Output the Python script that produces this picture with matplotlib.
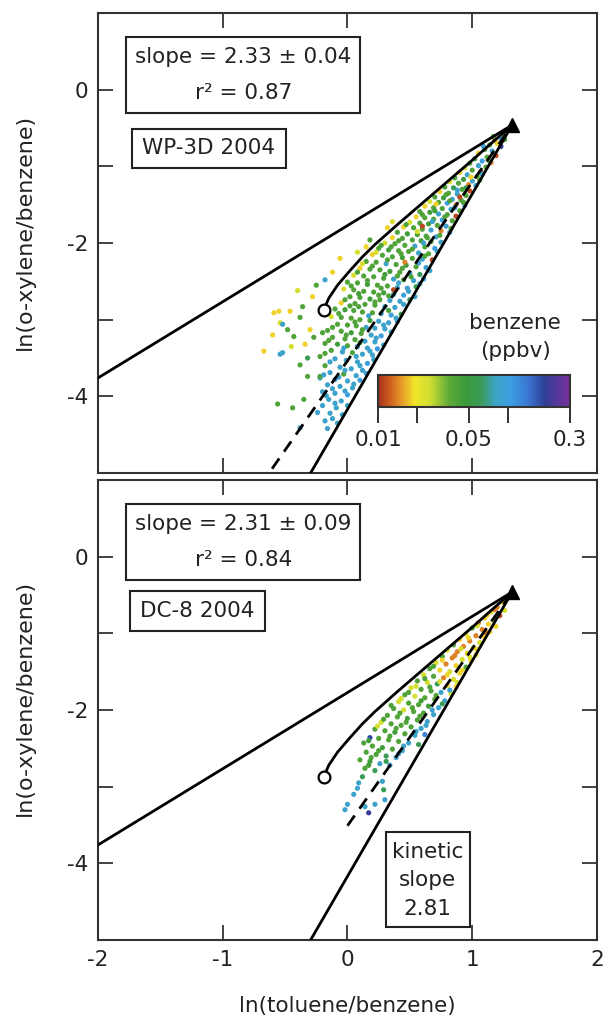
import matplotlib
matplotlib.use("Agg")
import matplotlib.pyplot as plt
from matplotlib.colors import LinearSegmentedColormap, LogNorm
from matplotlib.patches import Rectangle
from matplotlib.cm import ScalarMappable
from matplotlib.ticker import NullLocator

plt.rcParams["font.family"] = ["DejaVu Sans"]
plt.rcParams["axes.unicode_minus"] = False

# model lines (shared by both panels)
source = (1.32, -0.46)
background_end = (-2.0, -3.76)
kinetic_slope = 2.81
kinetic_xmin = -0.35
mix_x = [-0.19, -0.15, -0.08, 0.02, 0.12, 0.22, 0.40, 0.60, 0.80, 1.00, 1.18, 1.32]
mix_y = [-2.87, -2.72, -2.55, -2.36, -2.18, -2.02, -1.76, -1.48, -1.20, -0.92, -0.66, -0.46]
mix_end = (-0.19, -2.87)

# fits
fit_slope = {"WP-3D 2004": 2.33, "DC-8 2004": 2.31}
fit_xmin = {"WP-3D 2004": -0.70, "DC-8 2004": 0.0}
fit_text = {"WP-3D 2004": ("slope = 2.33 ± 0.04", "r² = 0.87"),
            "DC-8 2004": ("slope = 2.31 ± 0.09", "r² = 0.84")}

# (ln(toluene/benzene), ln(o-xylene/benzene), benzene ppbv)
wp3d_pts = [
    (1.25, -0.58, 0.04), (1.22, -0.62, 0.085), (1.18, -0.66, 0.011), (1.26, -0.65, 0.045),
    (1.20, -0.70, 0.018), (1.14, -0.72, 0.04), (1.23, -0.74, 0.2),
    (1.10, -0.78, 0.04), (1.16, -0.80, 0.085), (1.05, -0.83, 0.018), (1.19, -0.86, 0.011),
    (1.12, -0.88, 0.04), (1.02, -0.90, 0.045), (1.08, -0.93, 0.1), (1.15, -0.95, 0.014),
    (0.98, -0.96, 0.04), (1.05, -0.99, 0.085), (1.11, -1.01, 0.04), (0.94, -1.02, 0.024),
    (1.00, -1.05, 0.04), (1.07, -1.07, 0.011), (0.90, -1.08, 0.018), (0.96, -1.11, 0.085),
    (1.04, -1.13, 0.04), (0.86, -1.15, 0.04), (0.93, -1.17, 0.045), (1.00, -1.19, 0.085),
    (0.82, -1.20, 0.024), (0.89, -1.22, 0.04), (0.97, -1.24, 0.014), (1.03, -1.25, 0.085),
    (0.78, -1.27, 0.04), (0.85, -1.28, 0.06), (0.92, -1.30, 0.04),
    (0.98, -1.32, 0.011), (0.74, -1.33, 0.018), (0.81, -1.35, 0.04), (0.88, -1.36, 0.085),
    (0.95, -1.38, 0.04), (0.70, -1.40, 0.04), (0.77, -1.41, 0.045), (0.84, -1.43, 0.085),
    (0.91, -1.44, 0.04), (0.66, -1.46, 0.024), (0.73, -1.47, 0.04), (0.80, -1.48, 0.1),
    (0.87, -1.50, 0.014), (0.94, -1.51, 0.085), (0.62, -1.52, 0.018), (0.69, -1.54, 0.04),
    (0.76, -1.55, 0.04), (0.83, -1.56, 0.085), (0.90, -1.58, 0.04), (0.58, -1.59, 0.04),
    (0.66, -1.60, 0.045),
    (0.73, -1.62, 0.085), (0.80, -1.63, 0.04), (0.87, -1.65, 0.011), (0.55, -1.66, 0.018),
    (0.62, -1.67, 0.04), (0.69, -1.69, 0.04), (0.76, -1.70, 0.1), (0.84, -1.71, 0.04),
    (0.50, -1.73, 0.024), (0.58, -1.74, 0.04), (0.65, -1.75, 0.045), (0.72, -1.77, 0.04),
    (0.79, -1.78, 0.085), (0.45, -1.79, 0.018), (0.53, -1.80, 0.04), (0.60, -1.82, 0.04),
    (0.67, -1.83, 0.085), (0.75, -1.84, 0.014), (0.82, -1.86, 0.085), (0.40, -1.86, 0.04),
    (0.48, -1.88, 0.045), (0.56, -1.89, 0.04), (0.32, -1.80, 0.018), (0.36, -1.72, 0.024),
    (0.63, -1.91, 0.04), (0.71, -1.92, 0.085), (0.36, -1.93, 0.018), (0.44, -1.94, 0.04),
    (0.52, -1.96, 0.04), (0.59, -1.97, 0.045), (0.67, -1.98, 0.04), (0.75, -1.99, 0.085),
    (0.30, -2.00, 0.024), (0.38, -2.01, 0.04), (0.46, -2.03, 0.04), (0.54, -2.04, 0.085),
    (0.62, -2.05, 0.04), (0.70, -2.07, 0.1), (0.25, -2.07, 0.04), (0.33, -2.09, 0.045),
    (0.41, -2.10, 0.04), (0.49, -2.11, 0.04), (0.57, -2.13, 0.085), (0.65, -2.14, 0.04),
    (0.20, -2.15, 0.018), (0.28, -2.16, 0.04), (0.36, -2.18, 0.04), (0.44, -2.19, 0.045),
    (0.52, -2.20, 0.04), (0.60, -2.21, 0.085), (0.68, -2.22, 0.011),
    (0.15, -2.05, 0.018), (0.08, -2.12, 0.024), (0.18, -1.96, 0.04), (-0.06, -2.20, 0.018),
    (-0.12, -2.38, 0.018), (-0.18, -2.48, 0.085),
    (0.15, -2.24, 0.04), (0.23, -2.25, 0.04), (0.31, -2.27, 0.085), (0.39, -2.28, 0.04),
    (0.47, -2.29, 0.045), (0.55, -2.31, 0.04), (0.63, -2.32, 0.085), (0.10, -2.33, 0.018),
    (0.18, -2.34, 0.04), (0.26, -2.35, 0.04), (0.34, -2.37, 0.045), (0.42, -2.38, 0.04),
    (0.50, -2.39, 0.085), (0.58, -2.41, 0.06), (0.05, -2.42, 0.024), (0.13, -2.43, 0.04),
    (0.21, -2.44, 0.04), (0.29, -2.46, 0.04), (0.37, -2.47, 0.085), (0.45, -2.48, 0.04),
    (0.53, -2.49, 0.085), (0.61, -2.47, 0.1),
    (0.00, -2.51, 0.04), (0.08, -2.52, 0.04), (0.16, -2.54, 0.045), (0.24, -2.55, 0.04),
    (0.32, -2.56, 0.04), (0.40, -2.58, 0.085), (0.48, -2.59, 0.085), (0.55, -2.57, 0.06),
    (-0.03, -2.60, 0.024), (0.05, -2.61, 0.04), (0.13, -2.63, 0.04), (0.21, -2.64, 0.04),
    (0.29, -2.65, 0.045), (0.37, -2.67, 0.085), (0.45, -2.68, 0.1), (0.02, -2.70, 0.04),
    (0.10, -2.71, 0.04), (0.18, -2.73, 0.045), (0.26, -2.74, 0.04), (0.34, -2.75, 0.085),
    (0.42, -2.76, 0.085), (0.50, -2.74, 0.06), (-0.05, -2.78, 0.018), (0.06, -2.79, 0.04),
    (0.14, -2.80, 0.04), (0.22, -2.81, 0.04), (0.30, -2.83, 0.085), (0.38, -2.84, 0.085),
    (-0.10, -2.86, 0.04), (-0.02, -2.87, 0.045), (0.05, -2.88, 0.04), (0.12, -2.90, 0.04),
    (0.20, -2.91, 0.04), (0.27, -2.92, 0.085), (0.35, -2.94, 0.1), (0.43, -2.93, 0.06),
    (-0.13, -2.96, 0.024), (-0.05, -2.97, 0.04), (0.03, -2.98, 0.04), (0.10, -3.00, 0.04),
    (0.18, -3.01, 0.045), (0.25, -3.02, 0.085), (0.33, -3.04, 0.085), (0.40, -3.02, 0.11),
    (-0.08, -3.06, 0.04), (0.00, -3.07, 0.04), (0.07, -3.08, 0.04), (0.15, -3.10, 0.085),
    (0.22, -3.11, 0.085), (0.30, -3.12, 0.085), (-0.16, -3.14, 0.04), (-0.05, -3.15, 0.04),
    (0.03, -3.17, 0.045), (0.11, -3.18, 0.04), (0.19, -3.20, 0.085), (0.27, -3.21, 0.1),
    (-0.12, -3.23, 0.04), (-0.02, -3.25, 0.04), (0.06, -3.26, 0.04), (0.14, -3.28, 0.085),
    (0.22, -3.29, 0.085), (-0.18, -3.31, 0.04), (-0.08, -3.32, 0.045), (0.00, -3.34, 0.04),
    (0.08, -3.35, 0.085), (0.16, -3.37, 0.085), (0.24, -3.38, 0.11), (-0.13, -3.40, 0.04),
    (-0.04, -3.42, 0.085), (0.04, -3.43, 0.04), (0.12, -3.45, 0.085), (0.20, -3.46, 0.085),
    (-0.22, -3.48, 0.04),
    (-0.10, -3.51, 0.085), (-0.01, -3.53, 0.085), (0.08, -3.55, 0.085), (0.16, -3.57, 0.1),
    (-0.18, -3.60, 0.04), (-0.06, -3.62, 0.085), (0.03, -3.64, 0.085), (0.12, -3.66, 0.085),
    (-0.14, -3.69, 0.085), (-0.03, -3.71, 0.04), (0.07, -3.73, 0.085), (-0.22, -3.76, 0.085),
    (-0.10, -3.78, 0.085), (0.00, -3.80, 0.085), (0.10, -3.79, 0.1), (-0.16, -3.85, 0.085),
    (-0.06, -3.87, 0.085), (0.04, -3.89, 0.085), (-0.20, -3.94, 0.085), (-0.10, -3.96, 0.085),
    (0.00, -3.98, 0.1), (-0.15, -4.04, 0.085), (-0.05, -4.06, 0.085), (-0.20, -4.12, 0.085),
    (-0.09, -4.15, 0.085), (-0.14, -4.22, 0.085), (-0.04, -4.24, 0.085), (-0.18, -4.32, 0.085),
    (-0.08, -4.35, 0.085), (-0.16, -4.42, 0.085),
    (-0.59, -2.91, 0.018), (-0.54, -3.04, 0.024), (-0.67, -3.41, 0.018), (-0.52, -3.43, 0.085),
    (-0.43, -3.22, 0.04), (-0.55, -2.89, 0.018), (-0.46, -2.89, 0.018), (-0.36, -2.83, 0.04),
    (-0.52, -3.06, 0.085), (-0.48, -3.13, 0.04), (-0.38, -2.97, 0.04), (-0.30, -3.13, 0.018),
    (-0.27, -3.23, 0.04), (-0.20, -3.17, 0.04), (-0.54, -3.45, 0.085), (-0.34, -3.32, 0.018),
    (-0.38, -3.59, 0.04), (-0.56, -4.10, 0.04), (-0.44, -4.15, 0.04), (-0.38, -4.41, 0.085),
    (-0.24, -4.21, 0.085), (-0.32, -3.74, 0.04), (-0.22, -3.74, 0.04), (-0.35, -4.04, 0.04),
    (-0.28, -2.70, 0.018), (-0.40, -2.62, 0.024), (-0.25, -2.55, 0.04), (-0.32, -3.50, 0.06),
    (-0.45, -3.35, 0.024), (-0.60, -3.20, 0.018),
    (1.17, -0.61, 0.04), (1.09, -0.74, 0.085), (1.13, -0.92, 0.04), (0.99, -1.14, 0.018),
    (1.06, -1.18, 0.04), (0.88, -1.31, 0.085), (0.79, -1.37, 0.04), (0.93, -1.47, 0.04),
    (0.71, -1.49, 0.018), (0.86, -1.54, 0.085), (0.60, -1.63, 0.04), (0.78, -1.66, 0.04),
    (0.68, -1.72, 0.085), (0.47, -1.76, 0.04), (0.83, -1.81, 0.04), (0.56, -1.85, 0.024),
    (0.74, -1.90, 0.04), (0.41, -1.97, 0.04), (0.61, -2.00, 0.085), (0.35, -2.05, 0.04),
    (0.52, -2.08, 0.04), (0.72, -2.11, 0.085), (0.23, -2.12, 0.024), (0.43, -2.14, 0.04),
    (0.62, -2.17, 0.04), (0.32, -2.22, 0.04), (0.57, -2.26, 0.085), (0.20, -2.30, 0.04),
    (0.44, -2.33, 0.04), (0.66, -2.36, 0.085), (0.08, -2.38, 0.04), (0.30, -2.41, 0.045),
    (0.51, -2.44, 0.04), (0.16, -2.49, 0.04), (0.41, -2.52, 0.085), (0.58, -2.53, 0.085),
    (0.03, -2.56, 0.04), (0.27, -2.59, 0.04), (0.49, -2.63, 0.085), (0.09, -2.66, 0.045),
    (0.33, -2.69, 0.04), (0.54, -2.70, 0.085), (-0.02, -2.74, 0.04), (0.22, -2.77, 0.04),
    (0.45, -2.80, 0.085), (0.09, -2.83, 0.04), (0.33, -2.88, 0.04), (-0.07, -2.92, 0.04),
    (0.17, -2.95, 0.085), (0.39, -2.98, 0.085), (0.06, -3.03, 0.04), (0.29, -3.07, 0.085),
    (-0.12, -3.10, 0.04), (0.12, -3.13, 0.04), (0.35, -3.16, 0.085), (-0.01, -3.20, 0.04),
    (0.23, -3.24, 0.085), (-0.15, -3.27, 0.04), (0.10, -3.30, 0.04), (0.29, -3.33, 0.085),
    (-0.03, -3.37, 0.085), (0.18, -3.41, 0.085), (-0.18, -3.44, 0.04), (0.07, -3.48, 0.085),
    (0.21, -3.52, 0.085), (-0.14, -3.55, 0.085), (0.10, -3.60, 0.085), (-0.02, -3.66, 0.085),
    (0.15, -3.70, 0.085), (-0.19, -3.72, 0.085), (-0.07, -3.75, 0.085), (0.05, -3.84, 0.085),
    (-0.12, -3.90, 0.085), (-0.02, -3.93, 0.085), (-0.17, -3.99, 0.085), (-0.10, -4.09, 0.085),
    (0.00, -4.12, 0.085), (-0.12, -4.29, 0.085), (0.60, -1.78, 0.011), (0.90, -1.40, 0.011),
    (0.46, -2.25, 0.014), (0.37, -2.61, 0.011), (1.08, -1.10, 0.085), (0.95, -1.28, 0.06),
    (0.82, -1.45, 0.04), (0.70, -1.58, 0.045), (0.64, -1.93, 0.04), (0.27, -2.03, 0.04),
    (0.12, -2.27, 0.024), (0.40, -2.43, 0.04), (0.25, -2.68, 0.04), (0.02, -2.82, 0.04),
]

dc8_pts = [
    (1.25, -0.60, 0.018), (1.20, -0.66, 0.014), (1.26, -0.70, 0.024), (1.15, -0.72, 0.018),
    (1.22, -0.77, 0.011), (1.10, -0.80, 0.018), (1.17, -0.83, 0.024), (1.05, -0.86, 0.014),
    (1.13, -0.88, 0.018), (1.19, -0.91, 0.018), (1.00, -0.93, 0.04), (1.08, -0.95, 0.014),
    (1.14, -0.98, 0.018),
    (0.95, -1.01, 0.024), (1.03, -1.03, 0.014), (1.10, -1.05, 0.018), (0.90, -1.08, 0.018),
    (0.98, -1.10, 0.014), (1.06, -1.12, 0.024), (0.85, -1.15, 0.04), (0.93, -1.17, 0.014),
    (1.01, -1.19, 0.018), (0.80, -1.22, 0.024), (0.88, -1.24, 0.014), (0.96, -1.26, 0.018),
    (1.03, -1.28, 0.018), (0.76, -1.30, 0.04), (0.84, -1.32, 0.014), (0.92, -1.34, 0.024),
    (0.99, -1.36, 0.018), (0.71, -1.38, 0.024), (0.79, -1.40, 0.014), (0.87, -1.42, 0.018),
    (0.95, -1.44, 0.04), (0.66, -1.46, 0.04), (0.74, -1.48, 0.018), (0.82, -1.50, 0.024),
    (0.90, -1.52, 0.018), (0.61, -1.54, 0.024), (0.69, -1.56, 0.04), (0.77, -1.58, 0.014),
    (0.85, -1.60, 0.024), (0.56, -1.62, 0.04), (0.64, -1.64, 0.024), (0.72, -1.66, 0.06),
    (0.80, -1.68, 0.018), (0.87, -1.70, 0.018), (0.51, -1.71, 0.024), (0.59, -1.73, 0.04),
    (0.67, -1.75, 0.04), (0.75, -1.77, 0.085), (0.83, -1.79, 0.024), (0.46, -1.80, 0.04),
    (0.54, -1.82, 0.024), (0.62, -1.84, 0.04), (0.70, -1.86, 0.04), (0.78, -1.88, 0.085),
    (0.41, -1.89, 0.024), (0.49, -1.91, 0.04), (0.57, -1.93, 0.04), (0.65, -1.95, 0.045),
    (0.73, -1.97, 0.085), (0.37, -1.98, 0.04), (0.45, -2.00, 0.024),
    (0.53, -2.02, 0.04), (0.61, -2.04, 0.04), (0.69, -2.06, 0.085), (0.32, -2.07, 0.04),
    (0.40, -2.09, 0.04), (0.48, -2.11, 0.045), (0.56, -2.13, 0.04), (0.64, -2.15, 0.085),
    (0.27, -2.16, 0.024), (0.35, -2.18, 0.04), (0.43, -2.20, 0.04), (0.51, -2.22, 0.04),
    (0.59, -2.24, 0.085), (0.22, -2.25, 0.04), (0.30, -2.27, 0.04), (0.38, -2.29, 0.045),
    (0.46, -2.31, 0.04), (0.54, -2.33, 0.085), (0.62, -2.32, 0.13), (0.18, -2.36, 0.18),
    (0.25, -2.37, 0.04), (0.33, -2.39, 0.04), (0.41, -2.41, 0.04), (0.49, -2.43, 0.085),
    (0.13, -2.43, 0.04), (0.57, -2.45, 0.06), (0.20, -2.47, 0.04), (0.28, -2.49, 0.045),
    (0.36, -2.51, 0.04), (0.44, -2.53, 0.085), (0.15, -2.55, 0.04), (0.23, -2.58, 0.04),
    (0.31, -2.60, 0.06), (0.39, -2.62, 0.085), (0.10, -2.65, 0.04), (0.18, -2.67, 0.045),
    (0.26, -2.70, 0.085), (0.34, -2.72, 0.085), (0.14, -2.76, 0.04), (0.22, -2.79, 0.06),
    (0.12, -2.87, 0.06), (0.09, -2.95, 0.085), (0.28, -2.93, 0.085), (0.29, -3.04, 0.06),
    (0.00, -3.23, 0.085), (0.14, -3.26, 0.085), (0.22, -3.23, 0.085), (0.17, -3.34, 0.2),
    (0.30, -3.17, 0.085), (0.05, -3.10, 0.085), (-0.02, -3.30, 0.085),
    (1.18, -0.69, 0.014), (1.12, -0.76, 0.018), (1.04, -0.90, 0.024), (1.11, -0.99, 0.014),
    (0.97, -1.06, 0.018), (1.04, -1.21, 0.018), (0.91, -1.20, 0.024), (0.86, -1.29, 0.014),
    (0.98, -1.31, 0.024), (0.76, -1.35, 0.018), (0.92, -1.48, 0.018), (0.69, -1.43, 0.04),
    (0.80, -1.54, 0.018), (0.62, -1.59, 0.04), (0.74, -1.63, 0.024), (0.88, -1.64, 0.024),
    (0.55, -1.69, 0.024), (0.66, -1.70, 0.04), (0.82, -1.74, 0.085), (0.49, -1.77, 0.04),
    (0.71, -1.81, 0.04), (0.43, -1.85, 0.024), (0.59, -1.88, 0.045), (0.76, -1.92, 0.06),
    (0.35, -1.94, 0.04), (0.52, -1.97, 0.04), (0.68, -2.00, 0.085), (0.42, -2.04, 0.04),
    (0.58, -2.08, 0.04), (0.29, -2.12, 0.04), (0.47, -2.16, 0.04), (0.63, -2.20, 0.085),
    (0.24, -2.21, 0.024), (0.39, -2.24, 0.04), (0.55, -2.28, 0.085), (0.34, -2.34, 0.04),
    (0.17, -2.40, 0.045), (0.45, -2.47, 0.085), (0.25, -2.53, 0.04), (0.41, -2.57, 0.085),
    (0.19, -2.62, 0.04), (0.31, -2.67, 0.06), (0.17, -2.72, 0.045), (0.08, -3.02, 0.085),
]

cbar_ticks = [0.01, 0.02, 0.05, 0.1, 0.3]
cbar_labels = ["0.01", "", "0.05", "", "0.3"]

cmap = LinearSegmentedColormap.from_list("benz", [
    (0.00, "#a8321e"), (0.07, "#d2661f"), (0.12, "#e69a2a"), (0.19, "#f2e52a"),
    (0.27, "#cfdd32"), (0.37, "#5eaa38"), (0.46, "#3a9a3a"), (0.54, "#3a9c5a"),
    (0.61, "#3ca4c4"), (0.69, "#3c9ee2"), (0.78, "#3a78d4"), (0.87, "#2e3f98"),
    (1.00, "#7a2f9a")])
norm = LogNorm(vmin=0.01, vmax=0.3)

FS = 15.5
LW = 2.0
fig = plt.figure(figsize=(6.03, 10.19), dpi=100)
ax_top = fig.add_axes([0.1625, 0.5358, 0.8275, 0.4514])
ax_bot = fig.add_axes([0.1625, 0.0775, 0.8275, 0.4514])


def draw_panel(ax, pts, name):
    xs, ys, bs = zip(*pts)
    ax.scatter(xs, ys, c=bs, cmap=cmap, norm=norm, s=14, linewidths=0, zorder=1)

    # background mixing line
    ax.plot([background_end[0], source[0]], [background_end[1], source[1]],
            color="k", lw=LW, zorder=3)
    # kinetic line
    ax.plot([kinetic_xmin, source[0]],
            [source[1] + kinetic_slope * (kinetic_xmin - source[0]), source[1]],
            color="k", lw=LW, zorder=3)
    # mixing curve
    ax.plot(mix_x, mix_y, color="k", lw=LW, zorder=3)
    # fit line
    s = fit_slope[name]
    x0 = fit_xmin[name]
    ax.plot([x0, source[0]], [source[1] + s * (x0 - source[0]), source[1]],
            color="k", lw=LW, dashes=(4.5, 3), zorder=3)

    ax.plot(*source, marker="^", ms=9.5, color="k", zorder=5, clip_on=False)
    ax.plot(*mix_end, marker="o", ms=8.5, mfc="white", mec="k", mew=1.6, zorder=5)

    ax.set_xlim(-2, 2)
    ax.set_ylim(-5, 1)
    ax.set_xticks([-2, -1, 0, 1, 2])
    ax.set_xticklabels(["-2", "-1", "0", "1", "2"])
    ax.set_yticks([-4, -3, -2, -1, 0])
    ax.set_yticklabels(["-4", "", "-2", "", "0"])
    ax.tick_params(direction="in", length=10.5, width=1.2, top=True, right=True,
                   labelsize=FS, pad=7, color="#222222", labelcolor="#222222")
    for sp in ax.spines.values():
        sp.set_linewidth(1.5)
        sp.set_color("#333333")

    # fit result box
    l1, l2 = fit_text[name]
    ax.add_patch(Rectangle((0.056, 0.783), 0.469, 0.165, transform=ax.transAxes,
                           fill=False, lw=1.5, ec="#222222", zorder=6))
    ax.text(0.291, 0.904, l1, transform=ax.transAxes, ha="center", va="center",
            fontsize=FS, color="#222222", zorder=7)
    ax.text(0.291, 0.826, l2, transform=ax.transAxes, ha="center", va="center",
            fontsize=FS, color="#222222", zorder=7)


draw_panel(ax_top, wp3d_pts, "WP-3D 2004")
draw_panel(ax_bot, dc8_pts, "DC-8 2004")
ax_top.tick_params(labelbottom=False)

# name boxes
ax_top.add_patch(Rectangle((0.068, 0.663), 0.309, 0.085, transform=ax_top.transAxes,
                           fill=False, lw=1.5, ec="#222222"))
ax_top.text(0.222, 0.706, "WP-3D 2004", transform=ax_top.transAxes,
            ha="center", va="center", fontsize=FS, color="#222222")
ax_bot.add_patch(Rectangle((0.064, 0.672), 0.271, 0.087, transform=ax_bot.transAxes,
                           fill=False, lw=1.5, ec="#222222"))
ax_bot.text(0.199, 0.715, "DC-8 2004", transform=ax_bot.transAxes,
            ha="center", va="center", fontsize=FS, color="#222222")

# kinetic slope box
ax_bot.add_patch(Rectangle((0.577, 0.028), 0.168, 0.207, transform=ax_bot.transAxes,
                           fc="white", lw=1.5, ec="#222222", zorder=6))
for fy, t in zip([0.191, 0.130, 0.068], ["kinetic", "slope", "2.81"]):
    ax_bot.text(0.661, fy, t, transform=ax_bot.transAxes, ha="center", va="center",
                fontsize=FS, color="#222222", zorder=7)

# colour bar
ax_top.text(0.836, 0.326, "benzene", transform=ax_top.transAxes, ha="center",
            va="center", fontsize=FS, color="#222222")
ax_top.text(0.836, 0.265, "(ppbv)", transform=ax_top.transAxes, ha="center",
            va="center", fontsize=FS, color="#222222")
cax = fig.add_axes([0.627, 0.6006, 0.318, 0.0314])
cb = fig.colorbar(ScalarMappable(norm=norm, cmap=cmap), cax=cax, orientation="horizontal")
cb.set_ticks(cbar_ticks)
cb.set_ticklabels(cbar_labels)
cax.xaxis.set_minor_locator(NullLocator())
cax.tick_params(direction="out", length=11.5, width=1.3, labelsize=FS, pad=5,
                color="#222222", labelcolor="#222222")
cb.outline.set_linewidth(1.5)
cb.outline.set_edgecolor("#333333")

# axis labels
fig.text(0.041, 0.772, "ln(o-xylene/benzene)", rotation=90, ha="center", va="center",
         fontsize=16, color="#222222")
fig.text(0.041, 0.315, "ln(o-xylene/benzene)", rotation=90, ha="center", va="center",
         fontsize=16, color="#222222")
fig.text(0.5755, 0.0128, "ln(toluene/benzene)", ha="center", va="center",
         fontsize=FS, color="#222222")

fig.savefig("out.png", dpi=100)
